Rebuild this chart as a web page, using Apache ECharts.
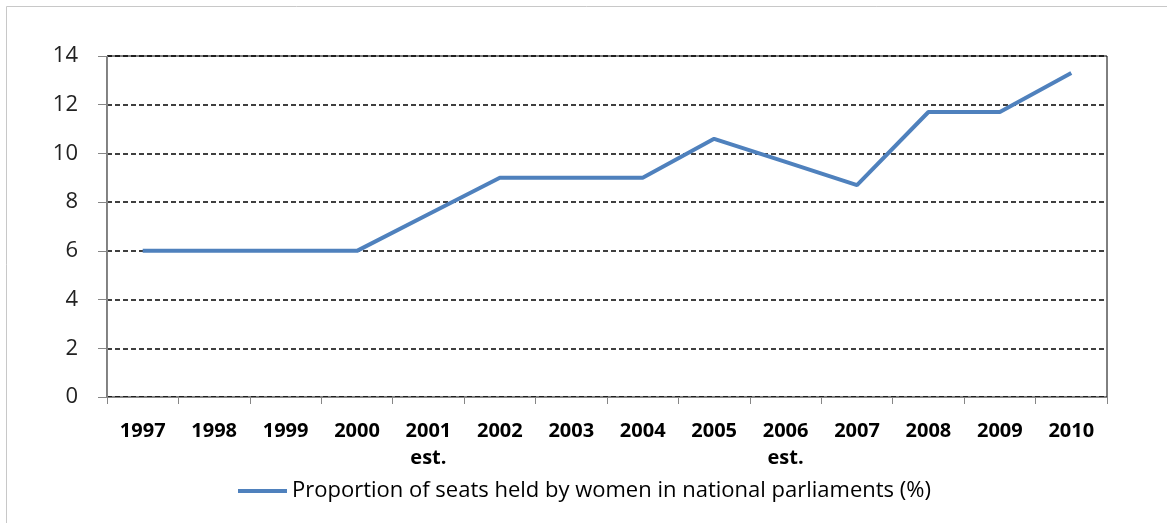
<!DOCTYPE html>
<html><head><meta charset="utf-8">
<script src="https://cdn.jsdelivr.net/npm/echarts@6/dist/echarts.min.js"></script>
<style>html,body{margin:0;padding:0;background:#fff}#c{width:1167px;height:523px}</style>
</head><body><div id="c"></div>
<script>
const categories = ['1997','1998','1999','2000','2001\nest.','2002','2003','2004','2005','2006\nest.','2007','2008','2009','2010'];
const values = [6, 6, 6, 6, 7.5, 9, 9, 9, 10.6, 9.65, 8.7, 11.7, 11.7, 13.3];
const seriesName = 'Proportion of seats held by women in national parliaments (%)';
const yMin = 0, yMax = 14, yStep = 2;

const chart = echarts.init(document.getElementById('c'), null, {renderer:'canvas'});
const font = '"Open Sans", Lato, sans-serif';
chart.setOption({
  animation: false,
  backgroundColor: '#fff',
  graphic: [
    {type:'line', shape:{x1:6.5,y1:6.5,x2:6.5,y2:523}, style:{stroke:'#c8c8c8',lineWidth:1}},
    {type:'line', shape:{x1:6.5,y1:6.5,x2:1167,y2:6.5}, style:{stroke:'#c8c8c8',lineWidth:1}}
  ],
  grid: {left:107, right:60, top:56, bottom:126, show:true, borderColor:'#000', borderWidth:1, backgroundColor:'transparent'},
  legend: {
    top: 475, left: 233,
    itemWidth: 49, itemHeight: 4, itemGap: 4,
    icon: 'rect',
    textStyle: {fontFamily: font, fontSize: 22, color: '#000'},
    data: [{name: seriesName}]
  },
  xAxis: {
    type: 'category', data: categories, boundaryGap: true,
    axisLine: {lineStyle:{color:'#868686', width:1}},
    axisTick: {show:true, length:7, lineStyle:{color:'#868686'}},
    axisLabel: {fontFamily: font, fontSize: 20, color:'#000', fontWeight:'bold', margin: 21, lineHeight: 27, interval: 0,
      rich: {}},
    splitLine: {show:false}
  },
  yAxis: {
    type: 'value', min: yMin, max: yMax, interval: yStep,
    axisLine: {show:true, lineStyle:{color:'#868686', width:1}},
    axisTick: {show:true, length:9, lineStyle:{color:'#868686'}},
    axisLabel: {fontFamily: font, fontSize: 22, color:'#222', margin: 29},
    splitLine: {show:true, lineStyle:{color:'#000', type:[5,3], width:1.5}}
  },
  series: [{
    name: seriesName, type: 'line', data: values,
    symbol: 'none', lineStyle: {color:'#4F81BD', width:4}, itemStyle:{color:'#4F81BD'}
  }]
});
</script></body></html>
